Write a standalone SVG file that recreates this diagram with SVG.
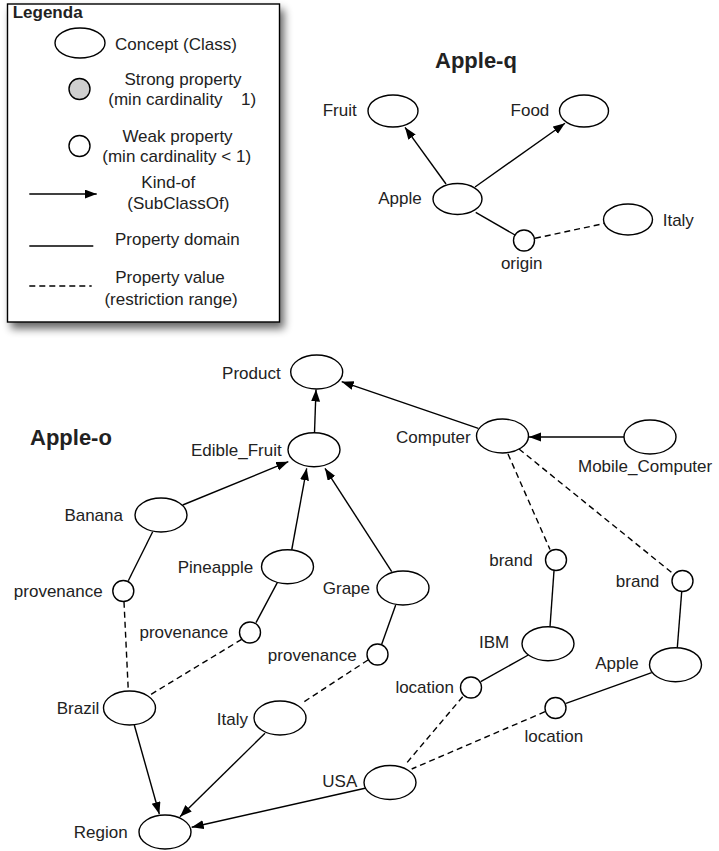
<svg xmlns="http://www.w3.org/2000/svg" width="719" height="851" viewBox="0 0 719 851">
<style>
text{font-family:"Liberation Sans",Arial,sans-serif;font-size:17px;fill:#222}
.b{font-weight:bold}
.e{text-anchor:end}
.m{text-anchor:middle}
.c{fill:#fff;stroke:#000;stroke-width:1.4}
.g{fill:#cfcfcf;stroke:#000;stroke-width:1.4}
.k{stroke:#000;stroke-width:1.4;fill:none}
.a{marker-end:url(#ah)}
.d{stroke-dasharray:6,4}
</style>
<defs>
<marker id="ah" markerUnits="userSpaceOnUse" markerWidth="13" markerHeight="10" refX="12" refY="4.5" orient="auto">
<path d="M0,0 L12,4.5 L0,9 z" fill="#000"/>
</marker>
<filter id="sh" x="-10%" y="-10%" width="130%" height="130%">
<feGaussianBlur in="SourceAlpha" stdDeviation="4"/>
<feOffset dx="4" dy="6" result="o"/>
<feComponentTransfer><feFuncA type="linear" slope="0.6"/></feComponentTransfer>
<feMerge><feMergeNode/><feMergeNode in="SourceGraphic"/></feMerge>
</filter>
</defs>
<rect width="719" height="851" fill="#fff"/>

<g id="legend">
<rect x="7.5" y="4" width="272" height="318" fill="#fff" stroke="#000" stroke-width="1.4" filter="url(#sh)"/>
<text class="b" x="12.7" y="18.3">Legenda</text>
<ellipse class="c" cx="80" cy="43" rx="25" ry="15"/>
<text x="115" y="50">Concept (Class)</text>
<circle class="g" cx="79.5" cy="89" r="10.5"/>
<text class="m" x="183" y="85">Strong property</text>
<text x="108.3" y="105">(min cardinality <tspan x="241">1)</tspan></text>
<circle class="c" cx="79.5" cy="146" r="10.5"/>
<text class="m" x="177.5" y="141.7">Weak property</text>
<text class="m" x="176.7" y="161.7">(min cardinality &lt; 1)</text>
<line class="k a" x1="29.3" y1="194" x2="96.7" y2="194"/>
<text class="m" x="168.3" y="188.3">Kind-of</text>
<text class="m" x="178.3" y="209.3">(SubClassOf)</text>
<line class="k" x1="29.3" y1="246" x2="93.3" y2="246"/>
<text x="115" y="245">Property domain</text>
<line class="k d" x1="29.3" y1="286" x2="91.7" y2="286"/>
<text class="m" x="170" y="283.3">Property value</text>
<text class="m" x="171" y="305">(restriction range)</text>
</g>

<text class="b" x="435" y="68" style="font-size:22px">Apple-q</text>
<text class="b" x="30" y="445" style="font-size:22px">Apple-o</text>

<g id="connectors">
<!-- Apple-q -->
<line class="k a" x1="446" y1="184" x2="405" y2="127.3"/>
<line class="k a" x1="475" y1="187" x2="565" y2="123.3"/>
<line class="k" x1="475.7" y1="212.3" x2="515" y2="235"/>
<line class="k d" x1="535" y1="238.3" x2="605" y2="223.3"/>
<!-- Apple-o kind-of -->
<line class="k a" x1="314.5" y1="432.7" x2="316" y2="389.5"/>
<line class="k a" x1="478.3" y1="428.3" x2="341.7" y2="381.7"/>
<line class="k a" x1="624" y1="437" x2="529" y2="437"/>
<line class="k a" x1="182.7" y1="505" x2="288.3" y2="461.7"/>
<line class="k a" x1="291.7" y1="550" x2="306.7" y2="468.3"/>
<line class="k a" x1="391.7" y1="571.7" x2="325" y2="468.3"/>
<line class="k a" x1="134.3" y1="725" x2="159.3" y2="814"/>
<line class="k a" x1="265" y1="733.3" x2="180" y2="816.7"/>
<line class="k a" x1="365" y1="788.3" x2="191.7" y2="827.3"/>
<!-- property domain -->
<line class="k" x1="152.7" y1="531.7" x2="128.3" y2="580.7"/>
<line class="k" x1="277.3" y1="582.7" x2="256" y2="622.7"/>
<line class="k" x1="395.7" y1="605" x2="381.7" y2="644.3"/>
<line class="k" x1="554" y1="570.7" x2="550" y2="626.7"/>
<line class="k" x1="681.7" y1="591.7" x2="677.3" y2="647.7"/>
<line class="k" x1="528.3" y1="655" x2="480.7" y2="681.7"/>
<line class="k" x1="651.7" y1="672.7" x2="566" y2="703.3"/>
<!-- property value -->
<line class="k d" x1="124" y1="601.7" x2="128.3" y2="690.7"/>
<line class="k d" x1="241.7" y1="639.3" x2="150" y2="695"/>
<line class="k d" x1="368" y1="660" x2="301.7" y2="703.3"/>
<line class="k d" x1="508" y1="454" x2="550" y2="549.5"/>
<line class="k d" x1="519" y1="449" x2="673.5" y2="574"/>
<line class="k d" x1="462.7" y1="696.7" x2="405" y2="765"/>
<line class="k d" x1="545" y1="711.7" x2="411.7" y2="769"/>
</g>

<!-- Apple-q nodes -->
<g id="q-fruit"><ellipse class="c" cx="393" cy="111" rx="25" ry="16"/><text class="e" x="356.7" y="116">Fruit</text></g>
<g id="q-food"><ellipse class="c" cx="584" cy="111" rx="24.5" ry="16"/><text class="e" x="549.3" y="116">Food</text></g>
<g id="q-apple"><ellipse class="c" cx="457.5" cy="199" rx="24.5" ry="15.5"/><text class="e" x="421.7" y="204">Apple</text></g>
<g id="q-italy"><ellipse class="c" cx="628" cy="219.5" rx="24.5" ry="15.5"/><text x="662.7" y="226">Italy</text></g>
<g id="q-origin"><circle class="c" cx="524" cy="240.5" r="10.5"/><text class="m" x="521.7" y="269">origin</text></g>

<!-- Apple-o nodes -->
<g id="product"><ellipse class="c" cx="316.7" cy="372" rx="26" ry="17"/><text class="e" x="280.7" y="379">Product</text></g>
<g id="edible-fruit"><ellipse class="c" cx="314" cy="449.7" rx="26" ry="17"/><text class="e" x="281.7" y="456">Edible_Fruit</text></g>
<g id="computer"><ellipse class="c" cx="502.5" cy="436" rx="26" ry="17"/><text class="e" x="470.7" y="443">Computer</text></g>
<g id="mobile-computer"><ellipse class="c" cx="650" cy="437" rx="26" ry="17"/><text x="578" y="471.7">Mobile_Computer</text></g>
<g id="banana"><ellipse class="c" cx="161" cy="515" rx="26" ry="17"/><text class="e" x="123" y="521">Banana</text></g>
<g id="pineapple"><ellipse class="c" cx="287.5" cy="566.7" rx="26" ry="17"/><text class="e" x="253.3" y="572.7">Pineapple</text></g>
<g id="grape"><ellipse class="c" cx="403" cy="588" rx="26" ry="17"/><text class="e" x="370" y="594.3">Grape</text></g>
<g id="prov-banana"><circle class="c" cx="123.3" cy="591" r="10.5"/><text class="e" x="102.7" y="596.7">provenance</text></g>
<g id="prov-pineapple"><circle class="c" cx="250" cy="632.5" r="10.5"/><text class="e" x="228.3" y="638">provenance</text></g>
<g id="prov-grape"><circle class="c" cx="377.5" cy="654.5" r="10.5"/><text class="e" x="356.7" y="661">provenance</text></g>
<g id="brazil"><ellipse class="c" cx="129.5" cy="708" rx="26" ry="17"/><text class="e" x="99.3" y="714">Brazil</text></g>
<g id="italy"><ellipse class="c" cx="280" cy="718" rx="26" ry="17"/><text class="e" x="248" y="725">Italy</text></g>
<g id="region"><ellipse class="c" cx="165" cy="832" rx="26" ry="17"/><text class="e" x="127.7" y="838">Region</text></g>
<g id="usa"><ellipse class="c" cx="390" cy="782.5" rx="26" ry="17"/><text class="e" x="357.3" y="786.7">USA</text></g>
<g id="brand-ibm"><circle class="c" cx="556" cy="560" r="10.5"/><text class="e" x="532.7" y="565.7">brand</text></g>
<g id="brand-apple"><circle class="c" cx="682.5" cy="581" r="10.5"/><text class="e" x="659.3" y="586.7">brand</text></g>
<g id="ibm"><ellipse class="c" cx="548" cy="643.7" rx="26" ry="17"/><text class="e" x="509.3" y="648.3">IBM</text></g>
<g id="apple"><ellipse class="c" cx="675.5" cy="664.7" rx="26" ry="17"/><text class="e" x="638.7" y="669.3">Apple</text></g>
<g id="location-ibm"><circle class="c" cx="471" cy="687.5" r="10.5"/><text class="e" x="454" y="692.7">location</text></g>
<g id="location-apple"><circle class="c" cx="555.5" cy="708" r="10.5"/><text class="m" x="553.8" y="742.3">location</text></g>
</svg>
